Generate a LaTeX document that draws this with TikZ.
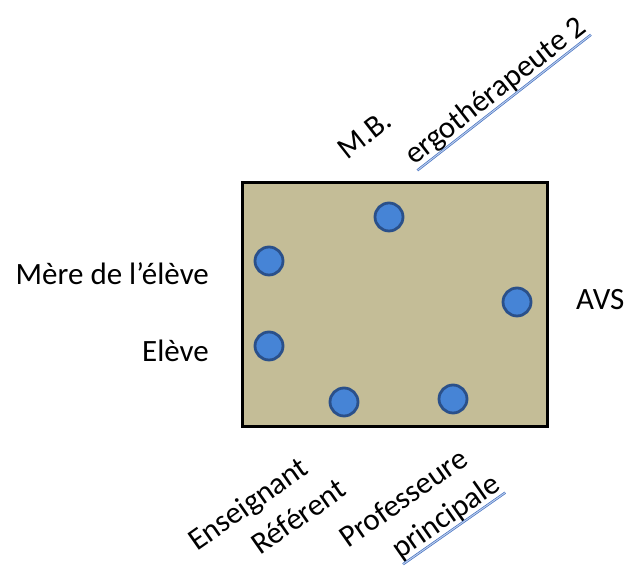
\documentclass[tikz,border=0pt]{standalone}
\usepackage{fontspec}
\setmainfont{Carlito}
\usetikzlibrary{positioning}

\definecolor{tablefill}{RGB}{196,189,151}
\definecolor{seatfill}{RGB}{70,132,214}
\definecolor{seatdraw}{RGB}{42,80,138}
\definecolor{ulblue}{RGB}{68,114,196}

\begin{document}
\begin{tikzpicture}[x=1pt,y=1pt,
  		table/.style={rectangle,draw=black,fill=tablefill,line width=3pt,
    		minimum width=305pt,minimum height=244pt,inner sep=0pt},
  		seat/.style={circle,draw=seatdraw,fill=seatfill,line width=2.8pt,
    		minimum size=28pt,inner sep=0pt},
  		label/.style={inner sep=0pt,font=\fontsize{31}{37}\selectfont},
  		tilted/.style={label,anchor=base west,rotate=#1},
  		uline/.style={draw=ulblue,line width=0.7pt,double=ulblue!35,double distance=1pt}]
    		\useasboundingbox (0,0) rectangle (626,577);
    		% Table
      		\node[table] (table) at (394.5,272) {};
    		% Seats
      		\node[seat] (seatMB) at (389,360) {};
      		\node[seat] (seatMere) at (269,316) {};
      		\node[seat] (seatAVS) at (517,275) {};
      		\node[seat] (seatEleve) at (269,231) {};
      		\node[seat] (seatRef) at (344,175) {};
      		\node[seat] (seatProf) at (453,178) {};
    		% Labels left and right
      		\node[label,anchor=base east] (mere) at (209,292) {Mère de l’élève};
      		\node[label,anchor=base east] (eleve) at (209,215) {Elève};
      		\node[label,anchor=base west] (avs) at (576,267) {AVS};
    		% Labels above
      		\node[tilted=38] (mb) at (347,416) {M.B.};
      		\node[tilted=38] (ergo) at (414,411) {ergothérapeute 2};
      		\draw[uline] (ergo.south west) -- (ergo.south east);
    		% Labels below
      		\node[tilted=35] (enseignant) at (197,25) {Enseignant};
      		\node[tilted=35] (referent) at (260,21) {Référent};
      		\node[tilted=35] (professeure) at (348,28) {Professeure};
      		\node[tilted=35] (principale) at (400,17) {principale};
      		\draw[uline] (principale.south west) -- (principale.south east);
	\end{tikzpicture}
\end{document}
